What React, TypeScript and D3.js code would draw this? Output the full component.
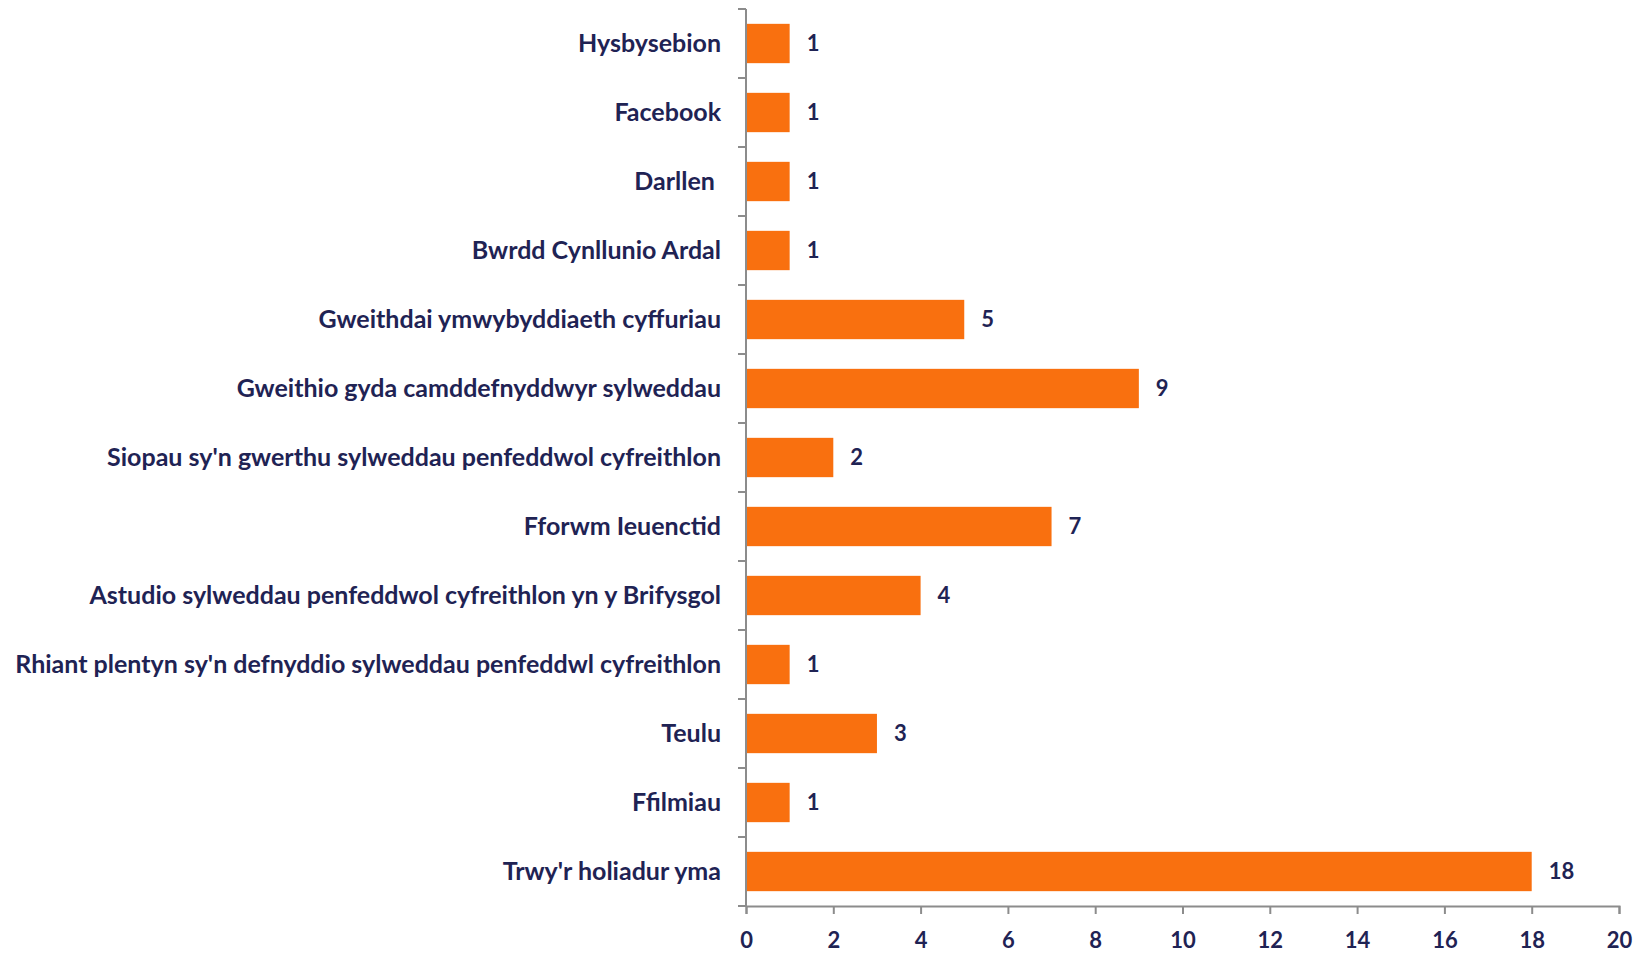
import React, { useEffect, useRef } from 'react'
import * as d3 from 'd3'

// top to bottom, as in the picture
const categories = [
  'Hysbysebion',
  'Facebook',
  'Darllen ',
  'Bwrdd Cynllunio Ardal',
  'Gweithdai ymwybyddiaeth cyffuriau',
  'Gweithio gyda camddefnyddwyr sylweddau',
  "Siopau sy'n gwerthu sylweddau penfeddwol cyfreithlon",
  'Fforwm Ieuenctid',
  'Astudio sylweddau penfeddwol cyfreithlon yn y Brifysgol',
  "Rhiant plentyn sy'n defnyddio sylweddau penfeddwl cyfreithlon",
  'Teulu',
  'Ffilmiau',
  "Trwy'r holiadur yma",
]
const counts = [1, 1, 1, 1, 5, 9, 2, 7, 4, 1, 3, 1, 18]
const xTicks = [0, 2, 4, 6, 8, 10, 12, 14, 16, 18, 20]

const W = 1638
const H = 955
const margin = { top: 9, right: 19, bottom: 49, left: 746 }
const textColor = '#1f2354'
const barColor = '#f9700f'
const axisColor = '#8c8c8c'
const font = 'Lato, "Open Sans", sans-serif'
const labelSize = 25
const numberSize = 22

const App = () => {
  const svg = useRef<SVGSVGElement>(null)

  useEffect(() => {
    const d3svg = d3.select(svg.current)
    d3svg.selectAll('*').remove()

    const innerW = W - margin.left - margin.right
    const innerH = H - margin.top - margin.bottom

    const xScale = d3.scaleLinear().domain([0, 20]).range([0, innerW])
    const yScale = d3.scaleBand().domain(categories).range([0, innerH]).paddingInner(0.43).paddingOuter(0.215)

    const g = d3svg.append('g').attr('transform', `translate(${margin.left},${margin.top})`)

    // bars
    const rows = categories.map((c, i) => ({ name: c, value: counts[i] }))
    g.selectAll('rect')
      .data(rows)
      .enter()
      .append('rect')
      .attr('x', 0)
      .attr('y', d => yScale(d.name))
      .attr('width', d => xScale(d.value))
      .attr('height', yScale.bandwidth())
      .attr('fill', barColor)

    // value labels
    g.selectAll('.val')
      .data(rows)
      .enter()
      .append('text')
      .attr('class', 'val')
      .attr('x', d => xScale(d.value) + 17)
      .attr('y', d => yScale(d.name) + yScale.bandwidth() / 2)
      .attr('dy', '0.36em')
      .attr('font-family', font)
      .attr('font-weight', 'bold')
      .attr('font-size', numberSize)
      .attr('fill', textColor)
      .text(d => d.value)

    // y axis line + ticks between categories
    const step = innerH / categories.length
    g.append('line')
      .attr('x1', 0).attr('x2', 0).attr('y1', 0).attr('y2', innerH)
      .attr('stroke', axisColor).attr('stroke-width', 2)
    g.selectAll('.ytick')
      .data(d3.range(categories.length + 1))
      .enter()
      .append('line')
      .attr('x1', -8).attr('x2', 0)
      .attr('y1', i => i * step).attr('y2', i => i * step)
      .attr('stroke', axisColor).attr('stroke-width', 2)

    // category labels
    g.selectAll('.cat')
      .data(rows)
      .enter()
      .append('text')
      .attr('class', 'cat')
      .attr('x', -25)
      .attr('y', d => yScale(d.name) + yScale.bandwidth() / 2)
      .attr('dy', '0.35em')
      .attr('text-anchor', 'end')
      .attr('font-family', font)
      .attr('font-weight', 'bold')
      .attr('font-size', labelSize)
      .attr('fill', textColor)
      .style('white-space', 'pre')
      .text(d => d.name)

    // x axis
    const xAxis = d3.axisBottom(xScale).tickValues(xTicks).tickSize(8).tickPadding(18)
    const ax = g.append('g').attr('transform', `translate(0,${innerH})`).call(xAxis)
    ax.select('.domain').attr('stroke', axisColor).attr('stroke-width', 2)
    ax.selectAll('.tick line').attr('stroke', axisColor).attr('stroke-width', 2)
    ax.selectAll('.tick text')
      .attr('font-family', font)
      .attr('font-weight', 'bold')
      .attr('font-size', numberSize)
      .attr('fill', textColor)
  }, [])

  return (
    <div style={{ position: 'absolute', left: 0, top: 0 }}>
      <svg ref={svg} width={W} height={H} style={{ display: 'block', background: '#fff' }}></svg>
    </div>
  )
}

export default App
